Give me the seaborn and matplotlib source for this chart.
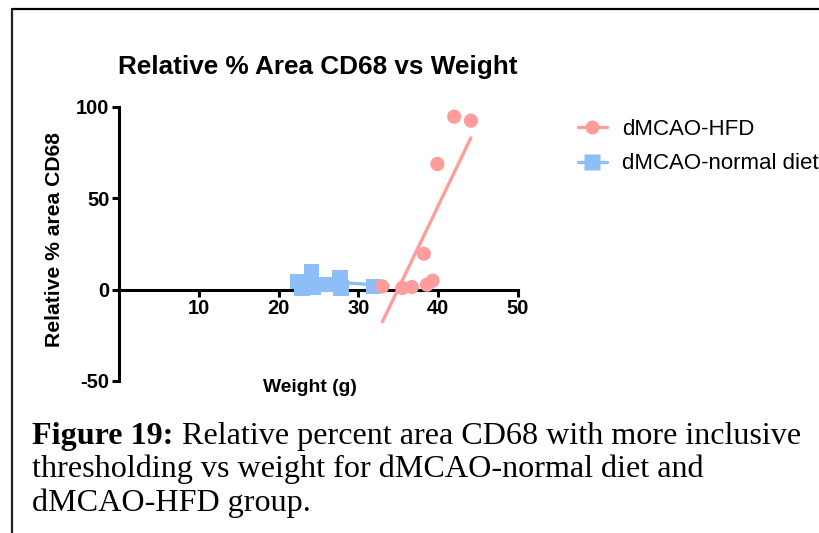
import numpy as np
import pandas as pd
import matplotlib
matplotlib.use("Agg")
import matplotlib.pyplot as plt
from matplotlib.lines import Line2D
import seaborn as sns

# ---------------- data ----------------
hfd_weight = [33.0, 35.5, 36.7, 38.6, 39.3, 38.2, 39.9, 42.0, 44.1]
hfd_cd68 = [1.8, 0.9, 1.5, 2.7, 4.9, 19.7, 68.8, 94.7, 92.5]
nd_weight = [22.4, 22.9, 24.1, 24.3, 26.0, 27.7, 27.8, 31.9]
nd_cd68 = [4.5, 1.0, 9.6, 1.2, 2.8, 6.4, 1.0, 1.8]
# fitted lines as drawn in the reference (slope, intercept)
hfd_fit = (9.08, -317.3)
nd_fit = (-0.29, 11.96)
series_names = ["dMCAO-HFD", "dMCAO-normal diet"]
x_ticks = [10, 20, 30, 40, 50]
y_ticks = [-50, 0, 50, 100]
title = "Relative % Area CD68 vs Weight"
x_label = "Weight (g)"
y_label = "Relative % area CD68"
caption_bold = "Figure 19:"
caption_lines = [" Relative percent area CD68 with more inclusive",
                 "thresholding vs weight for dMCAO-normal diet and",
                 "dMCAO-HFD group."]

pink = "#FF9C9C"
blue = "#8EBEF8"

sns.set_style("white")
plt.rcParams["font.family"] = ["Liberation Sans", "DejaVu Sans"]
plt.rcParams["text.color"] = "black"
plt.rcParams["xtick.color"] = "black"
plt.rcParams["ytick.color"] = "black"

fig = plt.figure(figsize=(8.19, 5.33), dpi=100)
ax = fig.add_axes([119 / 819, (533 - 381) / 533, (518 - 119) / 819, (381 - 107) / 533])

df_hfd = pd.DataFrame({"w": hfd_weight, "v": hfd_cd68})
df_nd = pd.DataFrame({"w": nd_weight, "v": nd_cd68})

def fit_df(xs, fit):
    xr = np.array([min(xs), max(xs)])
    return pd.DataFrame({"w": xr, "v": fit[0] * xr + fit[1]})

sns.lineplot(data=fit_df(nd_weight, nd_fit), x="w", y="v", color=blue, lw=2.4,
             ax=ax, zorder=3)
sns.scatterplot(data=df_nd, x="w", y="v", color=blue, marker="s", s=125,
                edgecolor="none", ax=ax, zorder=4, clip_on=False)
sns.lineplot(data=fit_df(hfd_weight, hfd_fit), x="w", y="v", color=pink, lw=2.4,
             ax=ax, zorder=5)
sns.scatterplot(data=df_hfd, x="w", y="v", color=pink, marker="o", s=105,
                edgecolor="none", ax=ax, zorder=6, clip_on=False)

for s in ["top", "right"]:
    ax.spines[s].set_visible(False)
for s in ["left", "bottom"]:
    ax.spines[s].set_linewidth(2.2)
    ax.spines[s].set_color("black")
    ax.spines[s].set_zorder(2)
ax.spines["bottom"].set_position(("data", 0))

ax.set_xlim(0, 50)
ax.set_ylim(-50, 100)
ax.set_xticks(x_ticks)
ax.set_yticks(y_ticks)
ax.set_xticklabels([str(t) for t in x_ticks])
ax.set_yticklabels([str(t) for t in y_ticks])
ax.tick_params(axis="both", which="major", length=5, width=2.2, color="black",
               direction="out", left=True, bottom=True, pad=2, labelsize=14.5,
               labelcolor="black")
for lab in ax.get_xticklabels() + ax.get_yticklabels():
    lab.set_fontweight("bold")
ax.set_xlabel("")
ax.set_ylabel("")
ax.patch.set_alpha(0)

fig.text(318 / 819, 1 - 67 / 533, title, ha="center", va="center",
         fontsize=18.8, fontweight="bold")
fig.text(310 / 819, 1 - 387 / 533, x_label, ha="center", va="center",
         fontsize=13.9, fontweight="bold")
fig.text(55 / 819, 1 - 240 / 533, y_label, ha="center", va="center",
         rotation=90, fontsize=15.2, fontweight="bold")

handles = [Line2D([], [], color=pink, lw=2.4, marker="o", markersize=10,
                  markeredgecolor="none"),
           Line2D([], [], color=blue, lw=2.4, marker="s", markersize=11,
                  markeredgecolor="none")]
fig.legend(handles, series_names, loc="upper left",
           bbox_to_anchor=(578 / 819, 1 - 119 / 533), frameon=False,
           fontsize=16, handlelength=1.3, handletextpad=0.7, labelspacing=0.6,
           borderaxespad=0, borderpad=0)

# document frame lines
fig.add_artist(Line2D([11.5 / 819, 1.0], [1 - 8.5 / 533, 1 - 8.5 / 533],
                      color="black", lw=1.6, transform=fig.transFigure))
fig.add_artist(Line2D([11.5 / 819, 11.5 / 819], [1 - 8.5 / 533, 0],
                      color="#222222", lw=1.6, transform=fig.transFigure))

serif = ["Liberation Serif", "DejaVu Serif"]
cap_size = 23.1
t1 = fig.text(32.5 / 819, 1 - 444 / 533, caption_bold, family=serif,
              fontsize=cap_size, fontweight="bold", ha="left", va="baseline")
fig.canvas.draw()
bb = t1.get_window_extent()
fig.text(bb.x1 / 819, 1 - 444 / 533, caption_lines[0], family=serif,
         fontsize=cap_size, ha="left", va="baseline")
fig.text(32.5 / 819, 1 - 477.5 / 533, caption_lines[1], family=serif,
         fontsize=cap_size, ha="left", va="baseline")
fig.text(32.5 / 819, 1 - 511 / 533, caption_lines[2], family=serif,
         fontsize=cap_size, ha="left", va="baseline")

fig.savefig("out.png", dpi=100)
